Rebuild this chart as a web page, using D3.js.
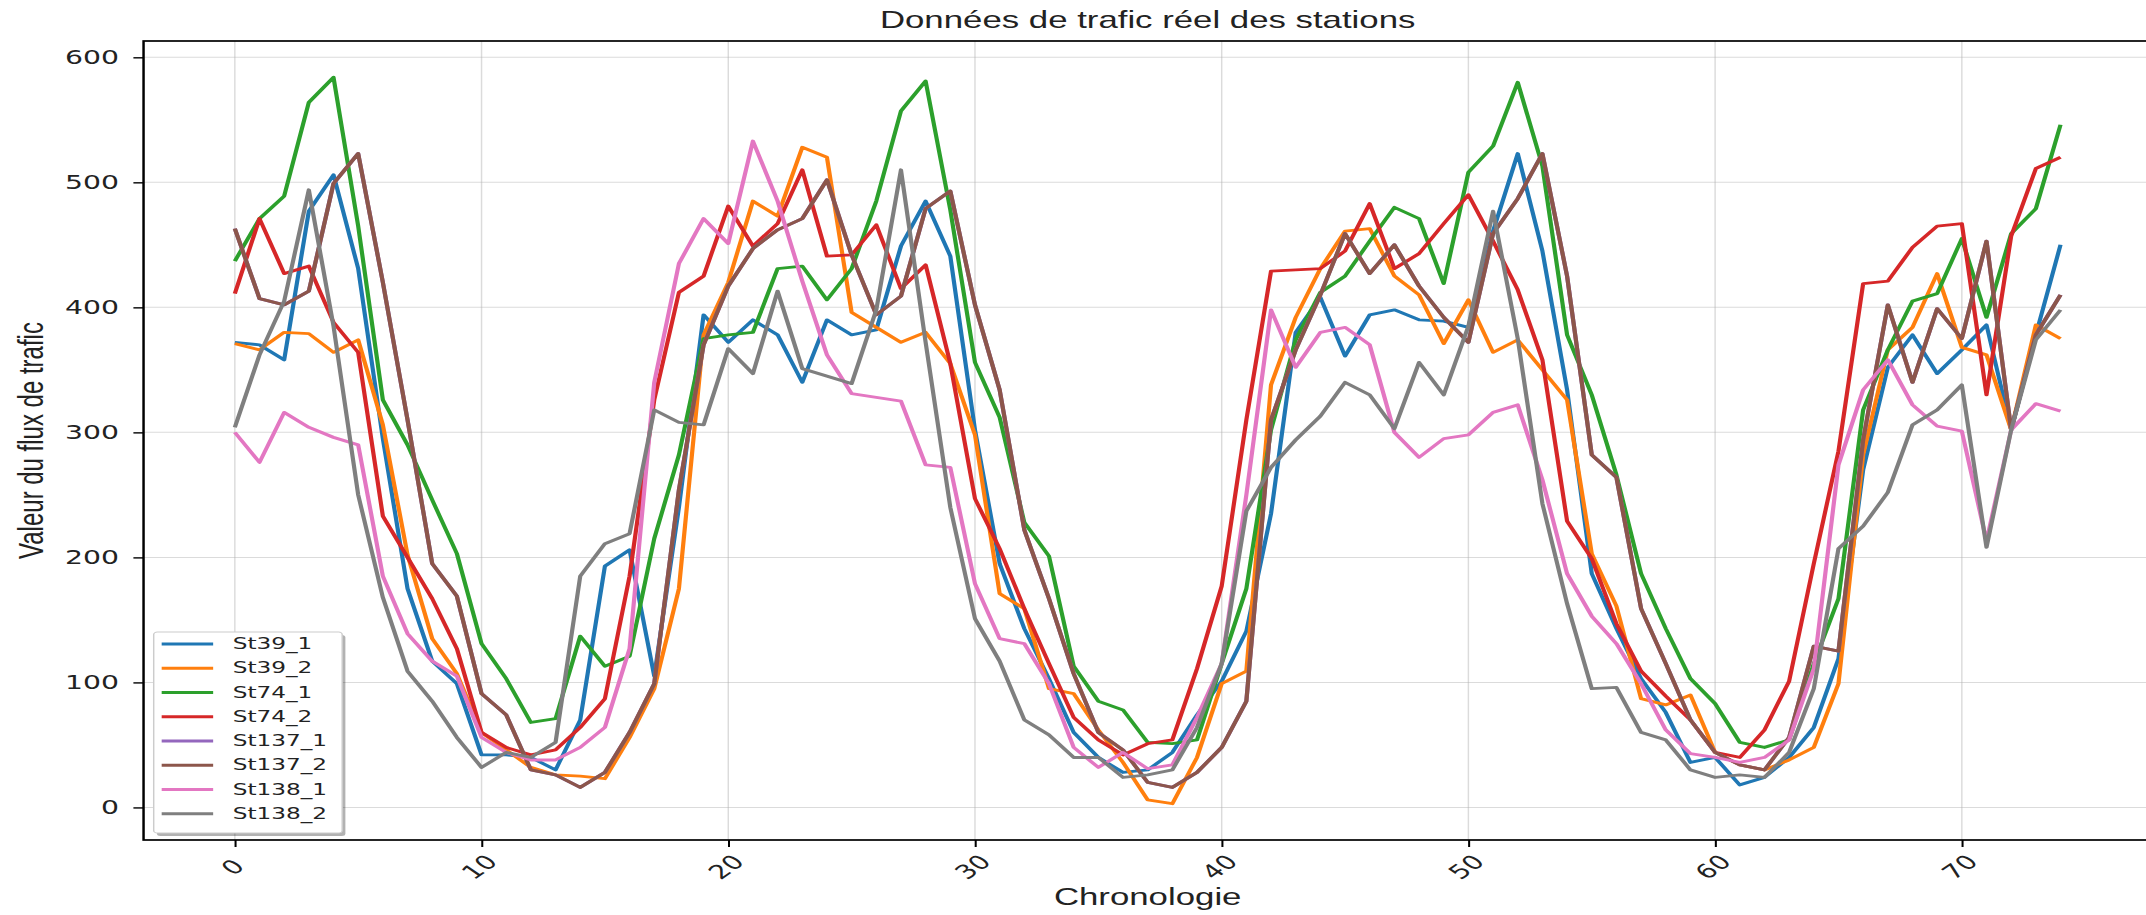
<!DOCTYPE html>
<html>
<head>
<meta charset="utf-8">
<script src="https://cdn.jsdelivr.net/npm/d3@7/dist/d3.min.js"></script>
<style>
  body { margin: 0; background: #fff; }
  svg { display: block; }
</style>
</head>
<body>
<script>
// time steps on the x axis
const timeSteps = d3.range(0, 75);

// traffic values per station
const st39_1 = [372, 370, 358, 477, 506, 431, 295, 175, 117, 99, 42, 42, 40, 30, 70, 193, 206, 105, 240, 394,
  372, 390, 378, 340, 390, 378, 382, 449, 485, 441, 302, 195, 143, 103, 60, 40, 28, 30, 44, 74,
  101, 141, 235, 380, 408, 361, 394, 398, 390, 389, 384, 461, 523, 445, 334, 187, 143, 103, 76, 36,
  40, 18, 24, 40, 64, 119, 270, 352, 378, 347, 366, 386, 302, 378, 450];
const st39_2 = [371, 366, 380, 379, 364, 374, 306, 202, 135, 107, 60, 46, 32, 26, 25, 23, 56, 95, 175, 378,
  420, 485, 473, 528, 520, 396, 384, 372, 380, 355, 298, 171, 159, 95, 91, 62, 36, 6, 3, 40,
  99, 109, 338, 392, 431, 461, 463, 425, 410, 371, 406, 364, 374, 350, 326, 203, 161, 87, 82, 90,
  44, 34, 30, 38, 48, 99, 282, 366, 384, 427, 368, 362, 302, 386, 375];
const st74_1 = [437, 471, 489, 564, 584, 465, 326, 290, 246, 203, 131, 103, 68, 71, 137, 113, 121, 215, 282, 375,
  378, 380, 431, 433, 406, 431, 485, 557, 581, 478, 356, 312, 228, 201, 113, 85, 78, 52, 51, 54,
  115, 175, 302, 374, 412, 425, 453, 480, 471, 419, 508, 529, 580, 513, 378, 330, 266, 187, 143, 103,
  83, 52, 48, 54, 115, 167, 318, 366, 405, 411, 455, 392, 459, 479, 546];
const st74_2 = [411, 471, 427, 433, 388, 364, 233, 200, 167, 127, 60, 48, 42, 46, 64, 87, 185, 326, 412, 425,
  481, 449, 467, 510, 441, 442, 466, 415, 434, 355, 247, 207, 159, 115, 72, 54, 42, 51, 54, 111,
  177, 310, 429, 430, 431, 445, 483, 431, 443, 467, 490, 453, 414, 358, 229, 199, 147, 109, 89, 70,
  44, 40, 62, 101, 195, 285, 419, 421, 448, 465, 467, 330, 457, 511, 520];
// St137_1 lies exactly under St137_2 in the picture
const st137_1 = [463, 407, 402, 413, 499, 523, 420, 310, 195, 169, 91, 74, 30, 26, 16, 28, 60, 99, 254, 370,
  417, 447, 462, 471, 502, 442, 394, 409, 479, 493, 402, 334, 222, 167, 107, 60, 46, 20, 16, 28,
  48, 85, 310, 366, 410, 459, 427, 450, 417, 392, 372, 459, 487, 523, 425, 282, 264, 159, 115, 70,
  44, 34, 30, 56, 129, 125, 294, 402, 340, 399, 375, 453, 302, 378, 410];
const st137_2 = [463, 407, 402, 413, 499, 523, 420, 310, 195, 169, 91, 74, 30, 26, 16, 28, 60, 99, 254, 370,
  417, 447, 462, 471, 502, 442, 394, 409, 479, 493, 402, 334, 222, 167, 107, 60, 46, 20, 16, 28,
  48, 85, 310, 366, 410, 459, 427, 450, 417, 392, 372, 459, 487, 523, 425, 282, 264, 159, 115, 70,
  44, 34, 30, 56, 129, 125, 294, 402, 340, 399, 375, 453, 302, 378, 410];
const st138_1 = [300, 276, 316, 304, 296, 290, 185, 139, 117, 105, 56, 44, 38, 38, 48, 64, 127, 340, 435, 471,
  451, 533, 485, 421, 362, 331, 328, 325, 274, 272, 179, 135, 131, 99, 48, 32, 44, 31, 34, 72,
  115, 250, 398, 352, 380, 384, 370, 300, 280, 295, 298, 316, 322, 262, 187, 153, 131, 99, 62, 43,
  40, 36, 40, 54, 111, 274, 334, 358, 322, 305, 301, 213, 302, 323, 317];
const st138_2 = [304, 362, 405, 494, 385, 250, 168, 109, 85, 56, 32, 44, 40, 52, 185, 211, 219, 318, 308, 306,
  367, 347, 413, 351, 345, 339, 398, 510, 372, 240, 151, 117, 70, 58, 40, 40, 24, 26, 30, 64,
  115, 237, 272, 294, 313, 340, 330, 303, 356, 330, 385, 477, 375, 243, 163, 95, 96, 60, 54, 30,
  24, 26, 24, 44, 95, 207, 225, 252, 306, 318, 338, 208, 302, 374, 398];

const stationNames = ["St39_1", "St39_2", "St74_1", "St74_2", "St137_1", "St137_2", "St138_1", "St138_2"];
const stationValues = [st39_1, st39_2, st74_1, st74_2, st137_1, st137_2, st138_1, st138_2];
const stationColors = ["#1f77b4", "#ff7f0e", "#2ca02c", "#d62728", "#9467bd", "#8c564b", "#e377c2", "#7f7f7f"];

const xTicks = [0, 10, 20, 30, 40, 50, 60, 70];
const yTicks = [0, 100, 200, 300, 400, 500, 600];

const chartTitle = "Données de trafic réel des stations";
const xLabel = "Chronologie";
const yLabel = "Valeur du flux de trafic";

// the reference picture is squeezed out sideways, so draw narrow and stretch
const SX = 1.45;
const W = 2146, H = 915;
const VW = W / SX;

const svg = d3.select("body").append("svg")
  .attr("width", W)
  .attr("height", H)
  .attr("viewBox", `0 0 ${VW} ${H}`)
  .attr("preserveAspectRatio", "none");

const box = {left: 99, right: 1484, top: 41, bottom: 840};

// matplotlib style 5% margins on both axes
const [x0, x1] = d3.extent(timeSteps);
const [v0, v1] = d3.extent(stationValues.flat());
const xPad = (x1 - x0) * 0.05, yPad = (v1 - v0) * 0.05;

const x = d3.scaleLinear().domain([x0 - xPad, x1 + xPad]).range([box.left, box.right]);
const y = d3.scaleLinear().domain([v0 - yPad, v1 + yPad]).range([box.bottom, box.top]);

// grid
const grid = svg.append("g").attr("stroke", "#b0b0b0").attr("stroke-opacity", 0.45).attr("stroke-width", 1);
grid.selectAll(".gy").data(yTicks).enter().append("line")
  .attr("x1", box.left).attr("x2", box.right)
  .attr("y1", d => y(d)).attr("y2", d => y(d));
grid.selectAll(".gx").data(xTicks).enter().append("line")
  .attr("x1", d => x(d)).attr("x2", d => x(d))
  .attr("y1", box.top).attr("y2", box.bottom);

// lines
const line = d3.line()
  .x((d, i) => x(timeSteps[i]))
  .y(d => y(d));

svg.append("g").selectAll("path")
  .data(stationValues)
  .enter().append("path")
  .attr("d", d => line(d))
  .attr("fill", "none")
  .attr("stroke", (d, i) => stationColors[i])
  .attr("stroke-width", 2.9)
  .attr("stroke-linejoin", "round");

// axes
const xAxis = svg.append("g")
  .attr("transform", `translate(0,${box.bottom})`)
  .call(d3.axisBottom(x).tickValues(xTicks).tickSize(7).tickSizeOuter(0));
xAxis.select(".domain").remove();
xAxis.selectAll(".tick line").attr("stroke", "#000").attr("stroke-width", 1.4);
xAxis.selectAll(".tick text")
  .attr("y", 0).attr("dy", null)
  .attr("transform", "translate(-2,27) rotate(-45)")
  .attr("text-anchor", "middle")
  .attr("dominant-baseline", "central")
  .attr("fill", "#222")
  .style("font-family", "'DejaVu Sans'")
  .style("font-size", "19.5px");

const yAxis = svg.append("g")
  .attr("transform", `translate(${box.left},0)`)
  .call(d3.axisLeft(y).tickValues(yTicks).tickSize(7).tickPadding(10).tickSizeOuter(0));
yAxis.select(".domain").remove();
yAxis.selectAll(".tick line").attr("stroke", "#000").attr("stroke-width", 1.4);
yAxis.selectAll(".tick text")
  .attr("fill", "#222")
  .style("font-family", "'DejaVu Sans'")
  .style("font-size", "19.5px");

// frame
svg.append("rect")
  .attr("x", box.left).attr("y", box.top)
  .attr("width", box.right - box.left).attr("height", box.bottom - box.top)
  .attr("fill", "none").attr("stroke", "#000").attr("stroke-width", 1.7);

// texts
svg.append("text")
  .attr("x", (box.left + box.right) / 2).attr("y", 28)
  .attr("text-anchor", "middle")
  .style("font-family", "'Liberation Sans', Arial, sans-serif")
  .style("font-size", "24px")
  .attr("fill", "#222")
  .text(chartTitle);

svg.append("text")
  .attr("x", (box.left + box.right) / 2).attr("y", 905)
  .attr("text-anchor", "middle")
  .style("font-family", "'Liberation Sans', Arial, sans-serif")
  .style("font-size", "24px")
  .attr("fill", "#222")
  .text(xLabel);

svg.append("text")
  .attr("transform", `translate(29.5,${(box.top + box.bottom) / 2}) rotate(-90)`)
  .attr("text-anchor", "middle")
  .style("font-family", "'Liberation Sans', Arial, sans-serif")
  .style("font-size", "24px")
  .attr("fill", "#222")
  .text(yLabel);

// legend
const lg = {x: 106, y: 632, w: 130, h: 201, row0: 644, step: 24.25};
const legend = svg.append("g");
legend.append("rect")
  .attr("x", lg.x + 2.2).attr("y", lg.y + 3)
  .attr("width", lg.w).attr("height", lg.h)
  .attr("rx", 2.5)
  .attr("fill", "#000").attr("fill-opacity", 0.3);
legend.append("rect")
  .attr("x", lg.x).attr("y", lg.y)
  .attr("width", lg.w).attr("height", lg.h)
  .attr("rx", 2.5)
  .attr("fill", "#fff").attr("stroke", "#cccccc").attr("stroke-width", 1);

const rows = legend.selectAll(".row")
  .data(stationNames)
  .enter().append("g")
  .attr("transform", (d, i) => `translate(0,${lg.row0 + i * lg.step})`);
rows.append("line")
  .attr("x1", 111.5).attr("x2", 147)
  .attr("stroke", (d, i) => stationColors[i])
  .attr("stroke-width", 2.9);
rows.append("text")
  .attr("x", 160.5)
  .attr("dominant-baseline", "central")
  .style("font-family", "'DejaVu Sans'")
  .style("font-size", "16px")
  .attr("fill", "#222")
  .text(d => d);
</script>
</body>
</html>
